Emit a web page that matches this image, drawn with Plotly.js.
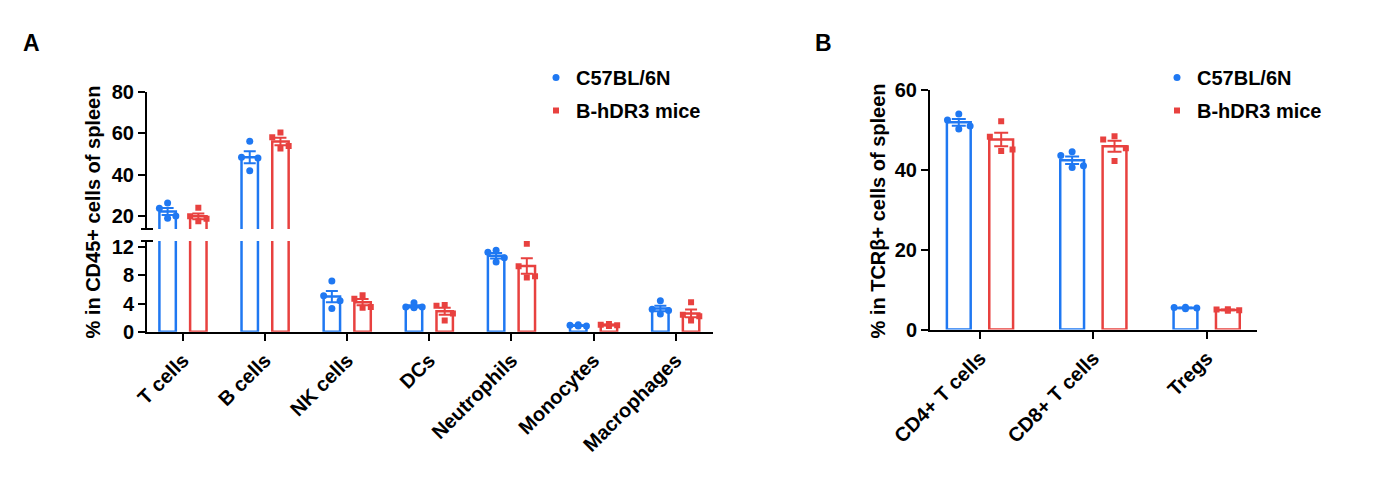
<!DOCTYPE html>
<html>
<head>
<meta charset="utf-8">
<script src="https://cdn.plot.ly/plotly-3.0.1.min.js"></script>
<style>
html, body { margin: 0; padding: 0; background: #fff; }
#plot { width: 1379px; height: 480px; }
</style>
</head>
<body>
<div id="plot"></div>
<script>
// panel A: immune cells in CD45+ spleen cells
var cellsA = ["T cells", "B cells", "NK cells", "DCs", "Neutrophils", "Monocytes", "Macrophages"];
var wtMeanA = [22.2, 48.4, 5.0, 3.6, 10.8, 0.85, 3.3];
var wtSemA = [1.7, 2.9, 0.8, 0.16, 0.4, 0.05, 0.4];
var wtPtsA = [
  [26.2, 23.7, 20.0, 18.9],
  [56.1, 48.4, 48.0, 41.8],
  [7.2, 5.1, 4.4, 3.3],
  [4.1, 3.5, 3.5, 3.4],
  [11.6, 11.3, 10.5, 9.9],
  [1.0, 0.9, 0.8, 0.8],
  [4.4, 3.2, 3.0, 2.5]
];
var hdMeanA = [19.8, 56.0, 4.2, 2.9, 9.35, 0.95, 2.6];
var hdSemA = [1.4, 1.8, 0.45, 0.5, 1.1, 0.07, 0.55];
var hdPtsA = [
  [24.0, 19.8, 18.6, 17.4],
  [60.3, 58.0, 53.8, 52.6],
  [5.2, 4.7, 3.5, 3.4],
  [3.8, 3.7, 2.6, 1.6],
  [12.5, 9.3, 7.9, 7.7],
  [1.1, 1.0, 0.9, 0.8],
  [4.2, 2.4, 2.2, 1.6]
];

// panel B: T cell subsets in TCRb+ cells
var cellsB = ["CD4+ T cells", "CD8+ T cells", "Tregs"];
var wtMeanB = [51.9, 42.4, 5.4];
var wtSemB = [0.85, 0.95, 0.1];
var wtPtsB = [
  [54.0, 52.5, 51.0, 50.2],
  [44.5, 43.6, 41.0, 40.6],
  [5.6, 5.5, 5.4, 5.2]
];
var hdMeanB = [47.6, 45.9, 4.9];
var hdSemB = [1.7, 1.4, 0.1];
var hdPtsB = [
  [52.2, 48.3, 45.1, 44.7],
  [48.4, 47.6, 45.4, 42.2],
  [5.1, 5.0, 4.8, 4.7]
];

var groups = ["C57BL/6N", "B-hDR3 mice"];

// axis ranges of the broken y axis in panel A
var lowRange = [0, 12.9];
var highRange = [13.7, 80];

var BLUE = "#1f78f2";
var RED = "#e8413f";
var SHIFT = 0.187;
var jit = [0, -0.1, 0.1, 0];
var FONT = "Liberation Sans, Arial, sans-serif";

function barTrace(means, sems, shift, color, xa, ya, w, cap) {
  return {
    type: "bar",
    x: means.map(function (v, i) { return i + shift; }),
    y: means,
    width: w,
    xaxis: xa,
    yaxis: ya,
    marker: { color: "#ffffff", line: { color: color, width: 2.5 } },
    error_y: { type: "data", array: sems, color: color, thickness: 2, width: cap },
    showlegend: false,
    hoverinfo: "skip"
  };
}

function dotTrace(pts, shift, color, symbol, size, xa, ya, name, legend, show, range) {
  var x = [], y = [];
  pts.forEach(function (grp, i) {
    grp.forEach(function (v, j) {
      if (range && (v < range[0] || v > range[1])) return;
      x.push(i + shift + jit[j]);
      y.push(v);
    });
  });
  return {
    type: "scatter",
    mode: "markers",
    x: x,
    y: y,
    xaxis: xa,
    yaxis: ya,
    name: name,
    legend: legend,
    legendgroup: legend + name,
    showlegend: show,
    marker: { color: color, symbol: symbol, size: size }
  };
}

var traces = [];
// panel A lower + upper segment
["y", "y2"].forEach(function (ya) {
  traces.push(barTrace(wtMeanA, wtSemA, -SHIFT, BLUE, "x", ya, 0.2, 6));
  traces.push(barTrace(hdMeanA, hdSemA, SHIFT, RED, "x", ya, 0.2, 6));
});
["y", "y2"].forEach(function (ya) {
  var show = ya === "y";
  var rng = show ? lowRange : highRange;
  traces.push(dotTrace(wtPtsA, -SHIFT, BLUE, "circle", 7, "x", ya, groups[0], "legend", show, rng));
  traces.push(dotTrace(hdPtsA, SHIFT, RED, "square", 6, "x", ya, groups[1], "legend", show, rng));
});
// panel B
traces.push(barTrace(wtMeanB, wtSemB, -SHIFT, BLUE, "x2", "y3", 0.21, 7));
traces.push(barTrace(hdMeanB, hdSemB, SHIFT, RED, "x2", "y3", 0.21, 7));
traces.push(dotTrace(wtPtsB, -SHIFT, BLUE, "circle", 7, "x2", "y3", groups[0], "legend2", true));
traces.push(dotTrace(hdPtsB, SHIFT, RED, "square", 6, "x2", "y3", groups[1], "legend2", true));

var tickFont = { family: FONT, size: 20, color: "#000", weight: "bold" };

function yAxis(domain, range, tickvals, anchor) {
  return {
    domain: domain, range: range, tickvals: tickvals, anchor: anchor,
    showline: true, linewidth: 2, linecolor: "#000",
    ticks: "outside", ticklen: 7, tickwidth: 2, tickcolor: "#000",
    showgrid: false, zeroline: false, automargin: false,
    tickfont: tickFont
  };
}
function xAxis(domain, range, labels, anchor) {
  return {
    domain: domain, range: range, anchor: anchor,
    tickvals: labels.map(function (c, i) { return i; }), ticktext: labels,
    tickangle: -45,
    showline: true, linewidth: 2, linecolor: "#000",
    ticks: "outside", ticklen: 7, tickwidth: 2, tickcolor: "#000",
    showgrid: false, zeroline: false, automargin: false,
    tickfont: tickFont
  };
}

var W = 1379, H = 480;
function px(x) { return x / W; }
function py(y) { return (H - y) / H; }

var legendStyle = {
  font: { family: FONT, size: 20, color: "#000", weight: "bold" },
  bgcolor: "rgba(0,0,0,0)", tracegroupgap: 4,
  xanchor: "left", yanchor: "top"
};

function label(text, x, y, size, angle) {
  return {
    text: text, xref: "paper", yref: "paper", x: px(x), y: py(y),
    xanchor: "center", yanchor: "middle", textangle: angle || 0, showarrow: false,
    font: { family: FONT, size: size, color: "#000", weight: "bold" }
  };
}

var layout = {
  width: W, height: H,
  margin: { l: 0, r: 0, t: 0, b: 0 },
  paper_bgcolor: "#fff", plot_bgcolor: "rgba(0,0,0,0)",
  barmode: "overlay",
  xaxis: xAxis([px(147), px(713)], [-0.438, 6.454], cellsA, "y"),
  yaxis: yAxis([py(331.7), py(241)], lowRange, [0, 4, 8, 12], "x"),
  yaxis2: yAxis([py(229), py(91.7)], highRange, [20, 40, 60, 80], "x"),
  xaxis2: xAxis([px(930), px(1257)], [-0.441, 2.444], cellsB, "y3"),
  yaxis3: yAxis([py(329.5), py(90)], [0, 60], [0, 20, 40, 60], "x2"),
  legend: Object.assign({ x: px(536), y: py(58) }, legendStyle),
  legend2: Object.assign({ x: px(1157), y: py(58) }, legendStyle),
  shapes: [
    { type: "line", xref: "paper", yref: "paper", x0: px(141), x1: px(153), y0: py(229), y1: py(229), line: { color: "#000", width: 2 } },
    { type: "line", xref: "paper", yref: "paper", x0: px(141), x1: px(153), y0: py(241), y1: py(241), line: { color: "#000", width: 2 } }
  ],
  annotations: [
    label("A", 31, 43, 23),
    label("B", 823, 43, 23),
    label("% in CD45+ cells of spleen", 92.5, 212, 20, -90),
    label("% in TCRβ+ cells of spleen", 877.5, 211, 20, -90)
  ],
  showlegend: true
};

Plotly.newPlot("plot", traces, layout, { staticPlot: true, displayModeBar: false });
</script>
</body>
</html>
